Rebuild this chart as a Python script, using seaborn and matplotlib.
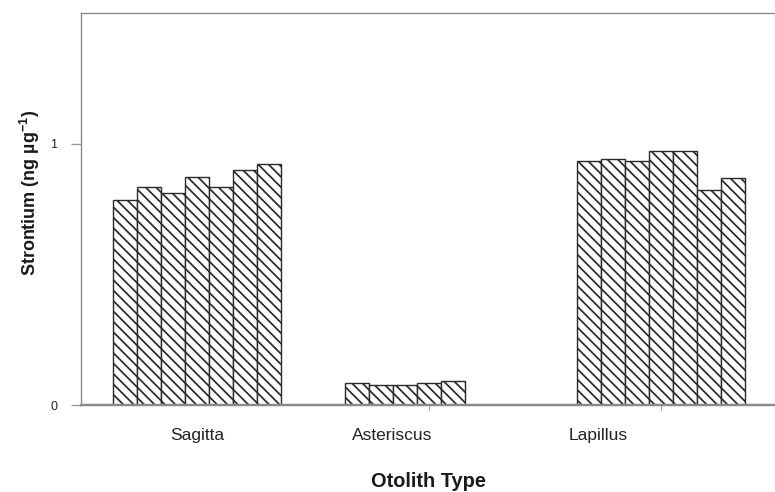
import matplotlib
matplotlib.use("Agg")
import matplotlib.pyplot as plt
import seaborn as sns
import pandas as pd

# Strontium concentration per otolith, by otolith type
otolith_types = ["Sagitta", "Asteriscus", "Lapillus"]
sagitta_sr = [0.783, 0.836, 0.813, 0.872, 0.833, 0.898, 0.922]
asteriscus_sr = [0.083, 0.075, 0.078, 0.085, 0.093]
lapillus_sr = [0.932, 0.940, 0.932, 0.973, 0.973, 0.821, 0.870]
y_ticks = [0, 1]
x_label_positions = [0.0, 0.84, 1.73]

rows = []
for name, values in zip(otolith_types, [sagitta_sr, asteriscus_sr, lapillus_sr]):
    for i, v in enumerate(values, start=1):
        rows.append({"otolith": name, "fish": i, "sr": v})
df = pd.DataFrame(rows)

sns.set_theme(style="white")
plt.rcParams["font.family"] = ["Liberation Sans", "DejaVu Sans"]
plt.rcParams["mathtext.fontset"] = "custom"
plt.rcParams["mathtext.rm"] = "Liberation Sans"
plt.rcParams["mathtext.bf"] = "Liberation Sans:bold"
plt.rcParams["hatch.linewidth"] = 1.0
plt.rcParams["hatch.color"] = "#2a2a2a"

fig = plt.figure(figsize=(6.2, 3.936), dpi=125)
ax = fig.add_axes([0.1045, 0.1768, 0.8955, 0.7968])

n_fish = 7
sns.barplot(
    data=df, x="otolith", y="sr", hue="fish", order=otolith_types,
    hue_order=list(range(1, n_fish + 1)), palette=["white"] * n_fish,
    width=0.725, gap=0, dodge=True, edgecolor="#2a2a2a", linewidth=0.8,
    legend=False, errorbar=None, ax=ax,
)
for p in ax.patches:
    p.set_hatch("\\\\\\\\")

ax.set_xlim(-0.5, 2.49)
ax.set_ylim(0, 1.5)
ax.set_yticks(y_ticks)
ax.set_yticklabels([str(t) for t in y_ticks], fontsize=7.2, color="#222222")
ax.tick_params(axis="y", which="major", length=6, width=0.8, color="#999999",
               direction="out", left=True, pad=7.5)

# group tick marks at the cluster centres, names set slightly apart
ax.set_xticks([0, 1, 2], minor=True)
ax.set_xticks(x_label_positions)
ax.set_xticklabels(otolith_types, fontsize=10, color="#222222")
ax.tick_params(axis="x", which="major", length=0, pad=13)
ax.tick_params(axis="x", which="minor", length=3, width=0.6, color="#999999",
               direction="out", bottom=True)

ax.set_xlabel("Otolith Type", fontsize=11.5, fontweight="bold", color="#1a1a1a")
ax.set_ylabel(r"Strontium (ng µg$^{\mathbf{-1}}$)", fontsize=10.4,
              fontweight="bold", color="#1a1a1a")
ax.xaxis.set_label_coords(0.5, -0.172)
ax.yaxis.set_label_coords(-0.056, 0.541)

for side in ["left", "top", "bottom"]:
    ax.spines[side].set_visible(True)
    ax.spines[side].set_color("#8a8a8a")
ax.spines["left"].set_linewidth(0.8)
ax.spines["top"].set_linewidth(0.8)
ax.spines["bottom"].set_linewidth(1.4)
ax.spines["right"].set_visible(False)

fig.savefig("out.png", dpi=125)
